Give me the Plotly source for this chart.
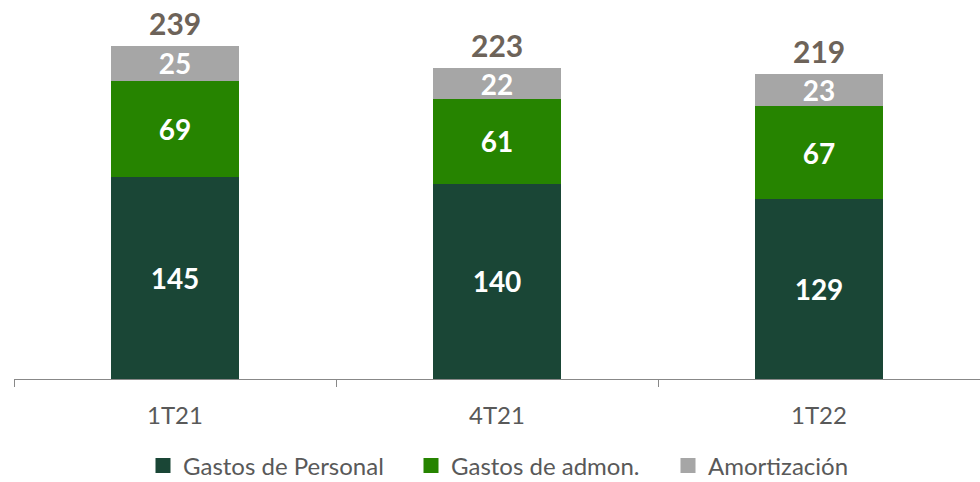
import plotly.graph_objects as go

categories = ["1T21", "4T21", "1T22"]
personal = [145, 140, 129]
admon = [69, 61, 67]
amort = [25, 22, 23]
totals = [239, 223, 219]

FONT = "Lato"
series = [("Gastos de Personal", personal, "#1a4636"),
          ("Gastos de admon.", admon, "#268400"),
          ("Amortización", amort, "#a6a6a6")]
legend_ids = ["legend", "legend2", "legend3"]
legend_left_px = [143, 411, 668]

fig = go.Figure()
for name, vals, col in series:
    fig.add_trace(go.Bar(
        x=categories, y=vals, name=name, marker=dict(color=col, line=dict(width=0)),
        text=vals, textposition="inside", insidetextanchor="middle", textangle=0,
        constraintext="none",
        textfont=dict(family=FONT, size=28, color="white", weight="bold"),
        hoverinfo="skip", showlegend=False,
    ))
# legend entries with larger square swatches
for (name, vals, col), lid in zip(series, legend_ids):
    fig.add_trace(go.Scatter(
        x=[None], y=[None], mode="markers", name=name, legend=lid,
        marker=dict(symbol="square", size=15, color=col), showlegend=True,
    ))

for c, t in zip(categories, totals):
    fig.add_annotation(x=c, y=t, text=str(t), showarrow=False, yanchor="bottom",
                       yshift=3, font=dict(family=FONT, size=30, color="#6d6359", weight="bold"))

W, H = 980, 482
leg_common = dict(orientation="h", xref="container", yref="container",
                  xanchor="left", yanchor="middle", y=(H - 466) / H,
                  font=dict(family=FONT, size=24, color="#595959"), itemwidth=30,
                  bgcolor="rgba(0,0,0,0)")
layout_legends = {lid: dict(x=px / W, **leg_common) for lid, px in zip(legend_ids, legend_left_px)}

fig.update_layout(
    barmode="stack", bargap=0.6,
    width=W, height=H,
    margin=dict(l=14, r=0, t=0, b=103),
    plot_bgcolor="white", paper_bgcolor="white",
    showlegend=True,
    xaxis=dict(showline=True, linecolor="#888888", linewidth=1, ticks="outside",
               tickson="boundaries", ticklen=7, tickcolor="#888888",
               ticklabelstandoff=15,
               tickfont=dict(family=FONT, size=24, color="#595959"), showgrid=False),
    yaxis=dict(range=[0, 272], visible=False, showgrid=False),
    hovermode=False,
    **layout_legends,
)

fig.write_html("out.html", config={"displayModeBar": False},
               post_script="document.body.style.margin='0';document.body.style.overflow='hidden';")
